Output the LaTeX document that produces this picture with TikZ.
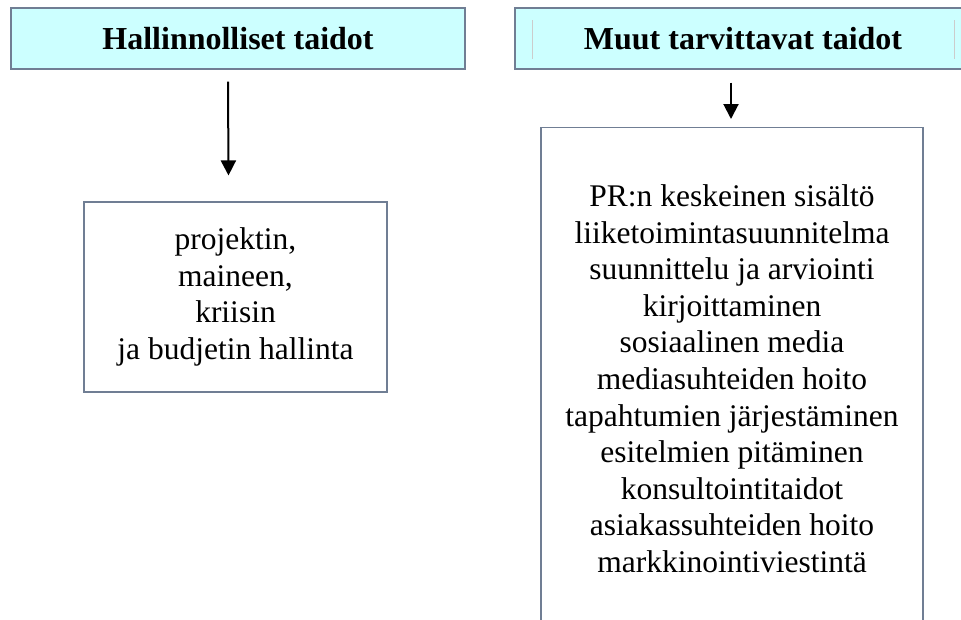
\documentclass[tikz,border=0pt]{standalone}
\usepackage{fontspec}
\setmainfont{Liberation Serif}
\usepackage{tikz}
\usetikzlibrary{arrows.meta,positioning}
\definecolor{headerfill}{RGB}{204,255,255}
\definecolor{edgecolor}{RGB}{112,126,148}
\colorlet{innerline}{black!20}
\tikzset{
  header box/.style={
      draw=edgecolor, fill=headerfill, line width=1.3pt,
      inner sep=0pt,
      font=\fontsize{32}{38}\selectfont\bfseries
    },
  content box/.style={
      draw=edgecolor, line width=1.1pt,
      inner sep=0pt, align=center,
      font=\fontsize{31.5}{36.6}\selectfont
    },
  flow arrow/.style={
      line width=2pt,
        -{Triangle[length=15pt,width=15pt]}
    }
}

\begin{document}
\begin{tikzpicture}[x=1pt,y=-1pt]

  \useasboundingbox (0,0) rectangle (961,619);
  \clip (0,0) rectangle (961,619);

  % ------------------------------------------------------------------
  % Headers.
  % ------------------------------------------------------------------
  \node[header box, minimum width=454pt, minimum height=61pt]
  (hdrL) at (238,38.5) {Hallinnolliset taidot};

  \node[header box, minimum width=456pt, minimum height=61pt]
  (hdrR) at (743,38.5) {Muut tarvittavat taidot};

  \draw[innerline, line width=1pt] (532,20) -- (532,59);
  \draw[innerline, line width=1pt] (954,20) -- (954,59);

  % ------------------------------------------------------------------
  % Skill lists.
  % ------------------------------------------------------------------
  \node[content box, minimum width=303pt, minimum height=190pt]
  (boxL) at (235.5,297) {projektin,\\ maineen,\\ kriisin\\ ja budjetin hallinta};

  \node[content box, anchor=north, minimum width=382pt]
  (boxR) at (732,127) {\parbox[c][560pt][t]{360pt}{\centering
      \vspace*{57pt}
      PR:n keskeinen sisältö\\
      liiketoimintasuunnitelma\\
      suunnittelu ja arviointi\\
      kirjoittaminen\\
      sosiaalinen media\\
      mediasuhteiden hoito\\
      tapahtumien järjestäminen\\
      esitelmien pitäminen\\
      konsultointitaidot\\
      asiakassuhteiden hoito\\
      markkinointiviestintä}};

  % ------------------------------------------------------------------
  % Arrows.
  % ------------------------------------------------------------------
  \draw[flow arrow]
  ([xshift=-10pt,yshift=-12pt]hdrL.south) --
  ([xshift=-7pt,yshift=26pt]boxL.north);

  \draw[flow arrow]
  ([xshift=-12pt,yshift=-13pt]hdrR.south) --
  ([xshift=-1pt,yshift=8pt]boxR.north);

\end{tikzpicture}
\end{document}
